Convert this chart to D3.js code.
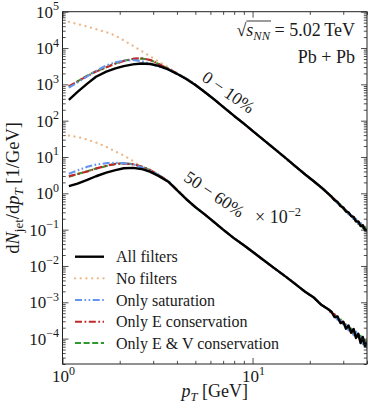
<!DOCTYPE html>
<html><head><meta charset="utf-8">
<script src="https://cdn.jsdelivr.net/npm/d3@7"></script>
<style>
html,body{margin:0;padding:0;background:#fff;}
svg text{font-family:"Liberation Serif","Times New Roman",serif;fill:#1a1a1a;}
</style>
</head><body>
<svg id="chart" width="374" height="412"></svg>
<script>
// ---------------- data ----------------
const pT = [1.08,1.2,1.35,1.5,1.7,1.9,2.1,2.35,2.6,2.9,3.2,3.6,4.0,4.5,5.0,5.6,6.3,7.0,8.0,9.0,10,11.5,13,15,17,19,21,23,25,
  26,27,28,29,30,31,32,33,34,35,36,37,38,39,40];

// 0-10 %
const allFilters_0_10 = [372,617,1047,1622,2239,2754,3162,3548,3758,3631,3236,2570,1950,1380,955,617,380,240,135,83.2,52.5,28.8,17.0,9.12,5.25,3.24,2.14,1.45,0.977,
  0.813,0.650,0.574,0.450,0.402,0.315,0.298,0.236,0.225,0.169,0.167,0.126,0.131,0.0986,0.0975];
const noFilters_0_10 = [52500,45700,38900,33100,27500,21900,16200,11500,8320,5890,4270,2950,2040,1410,977,617,380,240,135,83.2,52.5,28.8,17.0,9.12,5.25,3.24,2.14,1.45,0.977,
  0.785,0.689,0.530,0.476,0.366,0.349,0.269,0.264,0.200,0.195,0.142,0.148,0.110,0.116,0.0869];
const onlySaturation_0_10 = [813,1122,1660,2344,3311,4074,4467,4677,4365,3715,3090,2570,1995,1410,977,617,380,240,135,83.2,52.5,28.8,17.0,9.12,5.25,3.24,2.14,1.45,0.977,
  0.822,0.658,0.530,0.488,0.384,0.357,0.265,0.249,0.194,0.199,0.151,0.153,0.107,0.111,0.0811];
const onlyE_0_10 = [871,1202,1698,2239,2951,3715,4365,5012,5248,4677,3631,2692,1995,1410,977,617,380,240,135,83.2,52.5,28.8,17.0,9.12,5.25,3.24,2.14,1.45,0.977,
  0.794,0.697,0.542,0.445,0.416,0.326,0.305,0.225,0.220,0.166,0.171,0.130,0.135,0.0953,0.0998];
const onlyEV_0_10 = [851,1202,1738,2291,2951,3802,4467,5012,5129,4677,3631,2692,1995,1410,977,617,380,240,135,83.2,52.5,28.8,17.0,9.12,5.25,3.24,2.14,1.45,0.977,
  0.832,0.643,0.568,0.493,0.375,0.345,0.272,0.258,0.196,0.190,0.146,0.151,0.112,0.119,0.0849];

// 50-60 % (x 10^-2)
const allFilters_50_60 = [1.58,1.86,2.34,2.95,3.72,4.37,4.90,5.01,4.68,3.89,3.02,2.09,1.23,0.676,0.417,0.263,0.158,0.100,0.0575,0.0372,0.0245,0.0141,0.00871,0.00501,0.00302,0.00191,0.00135,0.000851,0.000646,
  5.50e-4,3.92e-4,4.06e-4,2.68e-4,2.88e-4,1.87e-4,2.29e-4,1.47e-4,1.85e-4,1.04e-4,1.36e-4,7.57e-5,1.11e-4,6.22e-5,8.02e-5];
const noFilters_50_60 = [38.9,35.5,30.2,25.1,19.1,14.1,11.0,7.76,5.25,3.89,3.02,2.09,1.23,0.676,0.417,0.263,0.158,0.100,0.0575,0.0372,0.0245,0.0141,0.00871,0.00501,0.00302,0.00191,0.00135,0.000851,0.000646,
  4.90e-4,4.60e-4,3.30e-4,3.22e-4,2.29e-4,2.47e-4,1.73e-4,1.98e-4,1.34e-4,1.48e-4,9.18e-5,1.15e-4,7.35e-5,9.42e-5,6.08e-5];
const onlySaturation_50_60 = [3.47,4.27,5.37,6.17,6.76,6.92,6.76,6.31,5.25,4.17,3.16,2.14,1.23,0.676,0.417,0.263,0.158,0.100,0.0575,0.0372,0.0245,0.0141,0.00871,0.00501,0.00302,0.00191,0.00135,0.000851,0.000646,
  5.37e-4,4.20e-4,3.30e-4,3.37e-4,2.51e-4,2.59e-4,1.69e-4,1.77e-4,1.25e-4,1.55e-4,1.03e-4,1.23e-4,7.02e-5,8.59e-5,5.30e-5];
const onlyE_50_60 = [2.95,3.39,3.98,4.79,5.75,6.46,6.61,6.31,5.50,4.37,3.24,2.14,1.26,0.676,0.417,0.263,0.158,0.100,0.0575,0.0372,0.0245,0.0141,0.00871,0.00501,0.00302,0.00191,0.00135,0.000851,0.000646,
  5.01e-4,4.71e-4,3.46e-4,2.81e-4,2.94e-4,2.15e-4,2.23e-4,1.44e-4,1.61e-4,1.07e-4,1.33e-4,8.89e-5,1.11e-4,6.37e-5,8.02e-5];
const onlyEV_50_60 = [2.88,3.39,4.07,4.79,5.62,6.46,6.76,6.31,5.50,4.27,3.24,2.14,1.26,0.676,0.417,0.263,0.158,0.100,0.0575,0.0372,0.0245,0.0141,0.00871,0.00501,0.00302,0.00191,0.00135,0.000851,0.000646,
  5.50e-4,4.01e-4,3.79e-4,3.45e-4,2.39e-4,2.42e-4,1.77e-4,1.89e-4,1.28e-4,1.41e-4,9.62e-5,1.20e-4,7.69e-5,9.86e-5,5.81e-5];

const legendLabels = ["All filters","No filters","Only saturation","Only E conservation","Only E & V conservation"];
const xTickExponents = [0,1];
const yTickExponents = [-4,-3,-2,-1,0,1,2,3,4,5];

// ---------------- layout ----------------
const M = {left:62.5, right:367, top:11.7, bottom:364};
const x = d3.scaleLog().domain([1,40]).range([M.left,M.right]);
const y = d3.scaleLog().domain([2e-5,1e5]).range([M.bottom,M.top]);
const svg = d3.select("#chart");

const styles = [
  {color:"#000000", dash:null, width:2.4},
  {color:"#ebb98a", dash:"0.1,5.6", width:2.3, cap:"round"},
  {color:"#6495ed", dash:"7,2.5,1.6,2.5,1.6,2.5", width:2.1},
  {color:"#c0282b", dash:"7,2.5,1.8,2.5", width:2.1},
  {color:"#2e9a2e", dash:"6,2.6", width:2.1}
];
const upper = [allFilters_0_10,noFilters_0_10,onlySaturation_0_10,onlyE_0_10,onlyEV_0_10];
const lower = [allFilters_50_60,noFilters_50_60,onlySaturation_50_60,onlyE_50_60,onlyEV_50_60];

const line = d3.line().x((d,i)=>x(pT[i])).y(d=>y(d));
const plot = svg.append("g");
svg.append("clipPath").attr("id","clip").append("rect")
  .attr("x",M.left).attr("y",M.top).attr("width",M.right-M.left).attr("height",M.bottom-M.top);
plot.attr("clip-path","url(#clip)");
const order = [1,4,3,2,0];
[upper,lower].forEach(group=>{
  order.forEach(k=>{
    const s = styles[k];
    plot.append("path").datum(group[k]).attr("d",line)
      .attr("fill","none").attr("stroke",s.color).attr("stroke-width",s.width)
      .attr("stroke-dasharray",s.dash).attr("stroke-linecap",s.cap||"butt")
      .attr("stroke-linejoin","round");
  });
});

// ---------------- axes ----------------
const xMinor = []; [1,10].forEach(b=>{for(let m=2;m<=9;m++){const v=b*m; if(v<=40) xMinor.push(v);}});
const yMinor = []; for(let e=-5;e<5;e++){for(let m=2;m<=9;m++){const v=m*Math.pow(10,e); if(v>=2e-5&&v<=1e5) yMinor.push(v);}}
const xMajor = xTickExponents.map(e=>Math.pow(10,e));
const yMajor = yTickExponents.map(e=>Math.pow(10,e));

function ticks(axisGen, vals, len){
  return axisGen.tickValues(vals).tickSize(len).tickFormat("");
}
const gAx = svg.append("g");
const mk = (gen, tr)=>{ const g = gAx.append("g").attr("transform",tr).call(gen); g.select(".domain").remove(); g.selectAll("line").attr("stroke","#222").attr("stroke-width",0.8); return g; };
mk(ticks(d3.axisTop(x),xMajor,6), `translate(0,${M.bottom})`);
mk(ticks(d3.axisTop(x),xMinor,3.2), `translate(0,${M.bottom})`);
mk(ticks(d3.axisBottom(x),xMajor,6), `translate(0,${M.top})`);
mk(ticks(d3.axisBottom(x),xMinor,3.2), `translate(0,${M.top})`);
mk(ticks(d3.axisRight(y),yMajor,6), `translate(${M.left},0)`);
mk(ticks(d3.axisRight(y),yMinor,3.2), `translate(${M.left},0)`);
mk(ticks(d3.axisLeft(y),yMajor,6), `translate(${M.right},0)`);
mk(ticks(d3.axisLeft(y),yMinor,3.2), `translate(${M.right},0)`);
svg.append("rect").attr("x",M.left).attr("y",M.top).attr("width",M.right-M.left).attr("height",M.bottom-M.top)
  .attr("fill","none").attr("stroke","#222").attr("stroke-width",1);

// tick labels
yTickExponents.forEach(e=>{
  const t = svg.append("text").attr("x",59).attr("y",y(Math.pow(10,e))+6).attr("text-anchor","end").attr("font-size",17);
  t.append("tspan").text("10");
  t.append("tspan").attr("dy",-7.5).attr("font-size",12).text(e<0?"\u2212"+(-e):String(e));
});
xTickExponents.forEach(e=>{
  const t = svg.append("text").attr("x",x(Math.pow(10,e))+1).attr("y",382).attr("text-anchor","middle").attr("font-size",17);
  t.append("tspan").text("10");
  t.append("tspan").attr("dy",-7.5).attr("font-size",12).text(String(e));
});

// axis labels
const xl = svg.append("text").attr("x",(M.left+M.right)/2).attr("y",397).attr("text-anchor","middle").attr("font-size",18);
xl.append("tspan").attr("font-style","italic").text("p");
xl.append("tspan").attr("font-style","italic").attr("font-size",12.5).attr("dy",3.5).text("T");
xl.append("tspan").attr("dy",-3.5).text(" [GeV]");

const yl = svg.append("text").attr("transform",`translate(19,${(M.top+M.bottom)/2}) rotate(-90)`).attr("text-anchor","middle").attr("font-size",18.5);
yl.append("tspan").text("d");
yl.append("tspan").attr("font-style","italic").text("N");
yl.append("tspan").attr("font-size",13).attr("dy",3.5).text("jet");
yl.append("tspan").attr("dy",-3.5).text("/d");
yl.append("tspan").attr("font-style","italic").text("p");
yl.append("tspan").attr("font-style","italic").attr("font-size",13).attr("dy",3.5).text("T");
yl.append("tspan").attr("dy",-3.5).text(" [1/GeV]");

// annotations
const a1 = svg.append("text").attr("x",355).attr("y",36).attr("text-anchor","end").attr("font-size",18);
a1.append("tspan").text("\u221A");
a1.append("tspan").attr("font-style","italic").text("s");
a1.append("tspan").attr("font-style","italic").attr("font-size",12.5).attr("dy",3.5).text("NN");
a1.append("tspan").attr("dy",-3.5).text(" = 5.02\u2009TeV");
{
  const n = a1.node();
  const x1 = n.getEndPositionOfChar(3).x;
  const sx = n.getStartPositionOfChar(0).x;
  svg.append("line").attr("x1",sx+10).attr("x2",x1+1).attr("y1",21).attr("y2",21).attr("stroke","#222").attr("stroke-width",0.9);
}
svg.append("text").attr("x",355).attr("y",63).attr("text-anchor","end").attr("font-size",18).text("Pb + Pb");

svg.append("text").attr("transform","translate(225,97) rotate(35)").attr("text-anchor","middle").attr("font-size",17.5).text("0 \u2212 10%");
svg.append("text").attr("transform","translate(211,199) rotate(34)").attr("text-anchor","middle").attr("font-size",17.5).text("50 \u2212 60%");
const a4 = svg.append("text").attr("x",255).attr("y",223).attr("font-size",18);
a4.append("tspan").text("\u00D7 10");
a4.append("tspan").attr("dy",-7.5).attr("font-size",12.5).text("\u22122");

// legend
const legY = [256.7,278.3,300,321.7,343];
legendLabels.forEach((lab,i)=>{
  const s = styles[i];
  svg.append("line").attr("x1",75).attr("x2",104).attr("y1",legY[i]).attr("y2",legY[i])
    .attr("stroke",s.color).attr("stroke-width",s.width).attr("stroke-dasharray",s.dash).attr("stroke-linecap",s.cap||"butt");
  svg.append("text").attr("x",116).attr("y",legY[i]+5.5).attr("font-size",16).text(lab);
});
</script>
</body></html>
